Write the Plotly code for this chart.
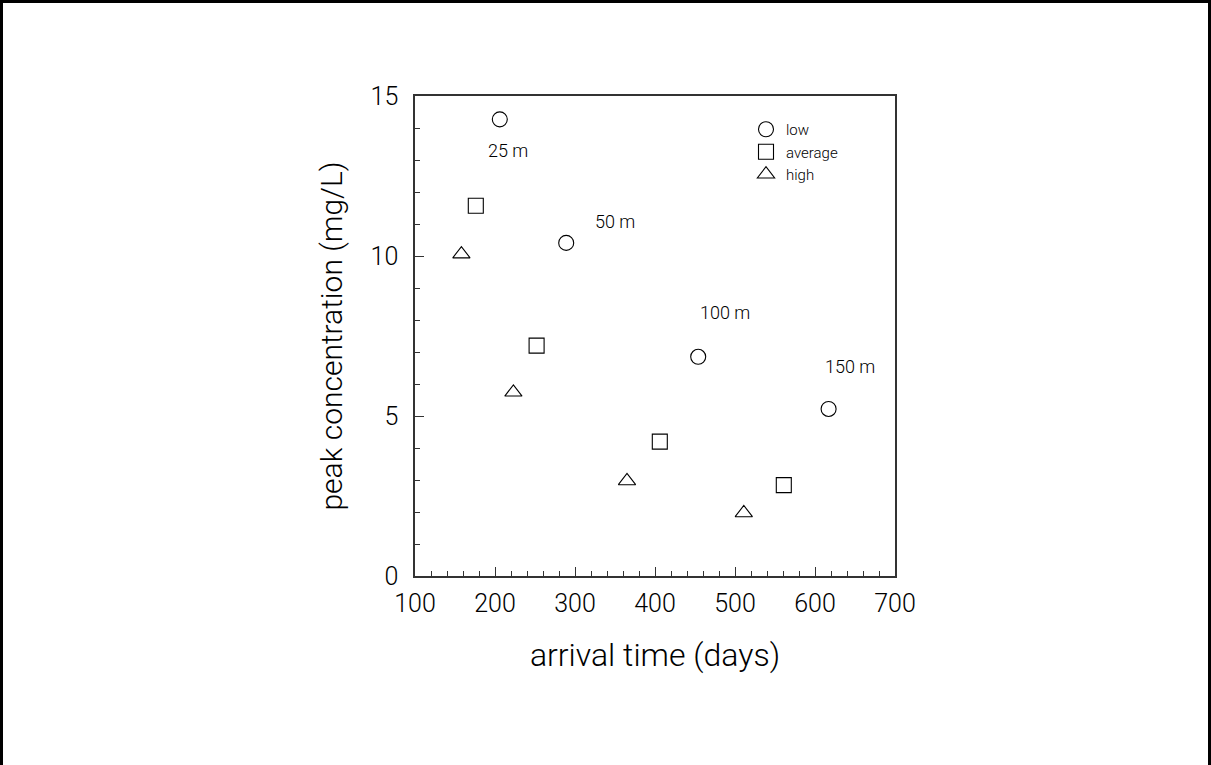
import plotly.graph_objects as go

# Data
low_x = [206, 289, 454, 617]
low_y = [14.27, 10.41, 6.85, 5.22]
avg_x = [176, 252, 406, 561]
avg_y = [11.57, 7.2, 4.2, 2.84]
high_x = [158, 223, 365, 511]
high_y = [10.06, 5.74, 2.97, 1.97]

dist_labels = ["25 m", "50 m", "100 m", "150 m"]
dist_x = [216, 350, 487.5, 644]
dist_y = [13.31, 11.07, 8.22, 6.54]

FONT = "Roboto"

fig = go.Figure()
mk = dict(size=15, color="black", line=dict(color="black", width=1.1))
fig.add_trace(go.Scatter(x=low_x, y=low_y, mode="markers", name="low",
                         marker=dict(symbol="circle-open", **mk)))
fig.add_trace(go.Scatter(x=avg_x, y=avg_y, mode="markers", name="average",
                         marker=dict(symbol="square-open", **mk)))
fig.add_trace(go.Scatter(x=high_x, y=high_y, mode="markers", name="high",
                         marker=dict(symbol="triangle-up-open", **mk)))

for t, x, y in zip(dist_labels, dist_x, dist_y):
    fig.add_annotation(x=x, y=y, text=t, showarrow=False,
                       font=dict(family=FONT, size=18, color="black", weight=300))

L, R, T, B = 415, 316, 96, 189
W, H = 1211, 765
pw, ph = W - L - R, H - T - B

axis_common = dict(
    showgrid=False, zeroline=False, showline=True, linecolor="#333",
    linewidth=1.5, mirror=True, ticks="inside", tickcolor="#333",
    tickwidth=1.3, tickfont=dict(family=FONT, size=25, color="black", weight=300),
)

fig.update_xaxes(range=[100, 700], tickvals=[100, 200, 300, 400, 500, 600, 700],
                 ticklen=9, ticklabelstandoff=4,
                 minor=dict(dtick=20, ticks="inside", ticklen=5,
                            tickcolor="#333", tickwidth=1.3),
                 title=dict(text="arrival time (days)", standoff=27,
                            font=dict(family=FONT, size=32, color="black", weight=300)),
                 **axis_common)
fig.update_yaxes(range=[0, 15], tickvals=[0, 5, 10, 15],
                 ticklen=9, ticklabelstandoff=10,
                 minor=dict(dtick=1, ticks="inside", ticklen=5,
                            tickcolor="#333", tickwidth=1.3),
                 title=dict(text="peak concentration (mg/L)", standoff=19,
                            font=dict(family=FONT, size=30, color="black", weight=300)),
                 **axis_common)

# outer frame
fig.add_shape(type="rect", xref="paper", yref="paper",
              x0=-(L - 1.5) / pw, x1=(W - L - 1.5) / pw,
              y0=-(B + 10) / ph, y1=(ph + T - 1.5) / ph,
              line=dict(color="black", width=3), layer="above")

fig.update_layout(
    width=W, height=H,
    margin=dict(l=L, r=R, t=T, b=B),
    plot_bgcolor="white", paper_bgcolor="white",
    showlegend=True,
    legend=dict(x=(746 - L) / pw, y=(576 - 113) / ph, xanchor="left", yanchor="top",
                bgcolor="rgba(0,0,0,0)", font=dict(family=FONT, size=15, color="black", weight=300),
                itemwidth=30, tracegroupgap=0),
)

fig.write_html("out.html", config={"displayModeBar": False},
               post_script="document.body.style.margin='0';document.body.style.overflow='hidden';")
